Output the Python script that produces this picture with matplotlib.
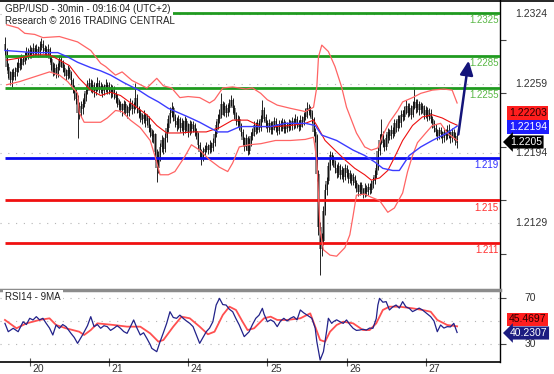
import matplotlib
matplotlib.use("Agg")
import matplotlib.pyplot as plt
from matplotlib.lines import Line2D
from matplotlib.transforms import blended_transform_factory
import numpy as np

plt.rcParams["font.family"] = ["Liberation Sans", "DejaVu Sans"]

title = "GBP/USD - 30min - 09:16:04 (UTC+2)"
subtitle = "Research \u00a9 2016 TRADING CENTRAL"
rsi_title = "RSI14 - 9MA"

# 30 min bars, prices in pips above 1.2000 (open = previous close)
first_open = 296
closes = [290, 275, 268, 262, 270, 265, 270, 274, 278, 276, 282, 280,
          284, 288, 286, 290, 287, 292, 289, 291, 288, 293, 296, 292, 290, 288, 291,
          282, 276, 270, 274, 268, 275, 282, 279, 274, 270, 266, 272, 268, 262, 255, 250, 245,
          232, 238, 235, 240, 246, 252, 257, 260, 255, 258, 252, 256, 260,
          254, 257, 252, 255, 258, 253, 256, 251, 254, 250, 246, 242, 240,
          238, 234, 240, 236, 232, 237, 241, 235, 238, 246, 236, 232, 228, 226, 230, 224, 227,
          218, 214, 210, 212, 195, 180, 192, 200, 206, 198, 208, 218, 226, 232, 236, 228,
          224, 220, 226, 218, 222, 216, 224, 219, 214, 221, 217, 220, 214, 212, 202, 195, 190,
          196, 198, 200, 197, 202, 199, 204, 212, 220, 226, 230, 240, 234, 238, 232, 236, 241, 244, 236,
          230, 224, 226, 220, 214, 206, 200, 208, 196, 204, 210, 214, 220, 216, 222, 218, 226, 234, 228, 222,
          218, 222, 216, 220, 224, 218, 215, 221, 219, 223, 217, 220, 218, 222, 220, 224, 221, 226, 222, 219, 225, 223, 228,
          230, 236, 234, 232, 226, 214, 210, 175, 125, 105, 112, 140, 160, 168, 182, 192, 188,
          185, 180, 176, 182, 174, 178, 172, 180, 176, 170, 174, 168, 172, 166, 162, 158, 164, 160, 156, 162, 158, 163, 160, 165,
          168, 174, 180, 196, 206, 212, 204, 200, 208, 214, 210, 216, 212, 222, 218, 226, 222, 230,
          228, 234, 238, 232, 236, 230, 238, 242, 236, 240, 234, 238, 236, 230, 234, 228, 232, 226, 222,
          218, 214, 210, 216, 212, 208, 214, 210, 216, 212, 208, 214, 210, 206, 205]
highs = [303, 292, 278, 271, 273, 274, 275, 279, 283, 284, 287, 286,
         289, 293, 292, 295, 293, 297, 295, 296, 294, 299, 302, 300, 295, 294, 296,
         293, 285, 279, 278, 277, 278, 286, 285, 281, 277, 273, 276, 275, 271, 264, 258, 254,
         248, 242, 243, 245, 250, 257, 262, 264, 263, 262, 261, 260, 265,
         262, 261, 259, 259, 263, 261, 261, 259, 258, 257, 252, 249, 245,
         243, 241, 244, 243, 239, 241, 246, 244, 242, 260, 249, 238, 235, 232, 234, 232, 231,
         229, 221, 217, 216, 213, 198, 196, 204, 211, 209, 213, 222, 230, 237, 242, 238,
         231, 228, 230, 228, 227, 225, 229, 227, 222, 225, 224, 224, 222, 218, 214, 205, 198,
         200, 202, 205, 203, 206, 205, 208, 216, 224, 231, 235, 250, 243, 242, 240, 240, 245, 248, 246,
         239, 233, 230, 229, 222, 217, 209, 212, 210, 208, 214, 218, 224, 223, 226, 225, 230, 244, 237, 231,
         225, 226, 224, 224, 228, 227, 221, 225, 225, 227, 226, 224, 223, 226, 225, 228, 227, 231, 229, 225, 230, 229, 233,
         236, 242, 240, 238, 234, 228, 218, 212, 178, 130, 120, 145, 165, 172, 186, 196, 195,
         192, 188, 184, 186, 184, 182, 180, 184, 183, 179, 178, 176, 176, 174, 169, 165, 167, 167, 162, 166, 164, 166, 166, 169,
         172, 178, 185, 200, 212, 226, 215, 207, 212, 218, 217, 220, 219, 226, 225, 230, 230, 234,
         234, 238, 244, 241, 241, 239, 243, 256, 245, 245, 243, 242, 241, 239, 238, 237, 236, 235, 229,
         225, 221, 217, 219, 219, 215, 218, 217, 220, 221, 215, 218, 217, 214, 212]
lows = [286, 272, 264, 258, 256, 262, 262, 266, 270, 272, 273, 276,
        277, 281, 282, 283, 283, 284, 285, 286, 284, 285, 290, 288, 286, 284, 285,
        279, 272, 266, 267, 264, 265, 272, 275, 270, 266, 262, 263, 264, 258, 250, 244, 240,
        208, 226, 228, 231, 237, 243, 249, 253, 251, 250, 247, 248, 252,
        250, 250, 247, 248, 251, 249, 249, 246, 247, 245, 241, 237, 234,
        233, 229, 231, 231, 227, 229, 234, 231, 232, 235, 232, 227, 223, 221, 222, 219, 220,
        214, 209, 205, 204, 188, 167, 176, 187, 195, 193, 195, 205, 214, 222, 228, 224,
        219, 215, 217, 214, 215, 211, 213, 215, 209, 211, 213, 214, 210, 207, 198, 190, 183,
        187, 192, 195, 193, 194, 195, 196, 201, 209, 217, 222, 227, 230, 229, 228, 229, 233, 238, 232,
        226, 220, 219, 216, 210, 202, 196, 197, 192, 193, 201, 206, 210, 212, 213, 214, 215, 223, 224, 218,
        214, 214, 212, 212, 216, 214, 211, 212, 215, 215, 213, 213, 214, 215, 216, 216, 217, 218, 218, 215, 216, 219, 220,
        225, 227, 230, 228, 222, 210, 205, 168, 118, 80, 98, 108, 136, 155, 165, 178, 183,
        181, 176, 171, 172, 170, 170, 167, 169, 172, 166, 166, 164, 164, 162, 158, 154, 155, 156, 152, 153, 154, 155, 156, 157,
        162, 165, 171, 178, 192, 203, 200, 196, 197, 204, 206, 207, 208, 210, 214, 215, 218, 219,
        224, 225, 231, 228, 229, 226, 228, 235, 232, 233, 230, 231, 232, 226, 227, 224, 225, 222, 218,
        214, 210, 206, 207, 208, 204, 205, 206, 207, 208, 204, 205, 206, 202, 199]

# indicator lines: bar index / pips
bb_up_x = [1, 8, 12, 18, 23, 33, 44, 52, 58, 61, 67, 71, 77, 86, 92, 96, 101, 106, 111, 118,
           124, 127, 132, 138, 146, 150, 155, 159, 165, 173, 182, 187, 189, 190, 192, 196, 200,
           204, 207, 210, 213, 218, 222, 226, 229, 233, 238, 241, 247, 252, 259, 266, 271, 274]
bb_up = [314, 311, 306, 305, 302, 303, 298, 290, 278, 275, 267, 270, 262, 255, 264, 257, 255, 246, 247, 246,
         241, 244, 255, 256, 254, 255, 250, 244, 239, 236, 233, 237, 256, 284, 295, 289, 275,
         256, 237, 225, 213, 200, 197, 199, 211, 223, 234, 242, 246, 250, 253, 254, 253, 241]
bb_mid_x = [1, 9, 18, 27, 33, 39, 45, 52, 58, 64, 70, 78, 86, 92, 98, 106, 114, 122, 130, 138,
            147, 155, 164, 173, 182, 187, 189, 194, 200, 206, 212, 218, 222, 227, 232, 236, 241,
            247, 253, 259, 265, 270, 274]
bb_mid = [281, 283, 286, 286, 281, 276, 264, 253, 248, 251, 248, 239, 230, 220, 213, 213, 214, 214, 218, 225,
          225, 219, 219, 220, 222, 225, 220, 206, 197, 188, 180, 174, 169, 171, 178, 190, 206,
          220, 228, 230, 227, 223, 220.3]
bb_low_x = [1, 9, 15, 21, 27, 33, 38, 44, 45, 48, 58, 62, 67, 71, 76, 82, 88, 91, 94, 99, 103,
            109, 113, 118, 124, 130, 135, 138, 142, 148, 155, 164, 173, 182, 187, 189, 191, 193,
            197, 201, 206, 209, 211, 213, 218, 222, 227, 232, 236, 241, 244, 247, 250, 255, 259,
            264, 268, 274]
bb_low = [258, 261, 264, 267, 270, 267, 261, 250, 232, 223, 223, 227, 234, 233, 225, 218, 206, 191, 174, 174, 177,
          191, 202, 197, 188, 181, 177, 185, 200, 202, 203, 206, 206, 207, 209, 188, 122, 104,
          99, 98, 106, 118, 136, 155, 156, 153, 150, 139, 143, 157, 177, 192, 204, 213, 220,
          222, 213, 206]
ma_x = [0, 9, 17, 27, 32, 38, 44, 52, 58, 64, 72, 81, 87, 93, 99, 105, 111, 118, 124, 129, 135,
        141, 144, 153, 161, 170, 182, 188, 192, 201, 211, 218, 224, 229, 235, 239, 245, 252, 259,
        268, 274]
ma = [290, 289, 288, 288, 288, 284, 279, 274, 271, 267, 260, 253, 247, 242, 236, 232, 228, 223, 218, 214, 214,
      218, 219, 219, 219, 222, 222, 220, 211, 206, 197, 192, 186, 180, 178, 178, 192, 200, 206,
      213, 219.4]

rsi_x = [0, 2, 5, 8, 11, 13, 15, 17, 19, 21, 23, 25, 27, 29, 31, 33, 35, 37, 40, 42, 44, 47, 50,
         52, 54, 56, 58, 60, 62, 64, 66, 68, 70, 72, 74, 76, 78, 80, 82, 84, 86, 88, 89, 92, 94,
         96, 98, 100, 102, 104, 106, 108, 110, 112, 114, 116, 118, 120, 122, 124, 126, 128, 130,
         132, 134, 136, 138, 140, 142, 145, 148, 150, 152, 154, 156, 157, 159, 161, 163, 165, 167,
         169, 171, 173, 175, 177, 179, 181, 183, 186, 188, 189, 191, 193, 195, 196, 198, 199, 201,
         203, 205, 207, 209, 211, 213, 215, 217, 219, 221, 223, 225, 226, 227, 229, 231, 233, 235,
         237, 239, 241, 243, 245, 247, 249, 251, 253, 256, 258, 260, 262, 264, 266, 268, 270, 272,
         274]
rsi = [48.0, 40.9, 43.8, 40.9, 49.4, 47.0, 52.3, 50.9, 53.7, 51.0, 52.3, 48.0, 44.0, 38.1, 46.6,
       43.8, 47.0, 45.2, 39.5, 36.0, 31.0, 38.1, 46.0, 53.7, 45.2, 47.0, 43.8, 46.0, 45.2, 42.0,
       43.8, 46.0, 43.8, 41.0, 39.5, 45.0, 50.9, 44.0, 38.1, 40.0, 35.2, 30.0, 26.7, 23.9, 32.4,
       40.0, 48.0, 57.9, 53.0, 52.3, 55.0, 52.3, 50.0, 48.0, 45.2, 38.0, 31.0, 36.0, 40.9, 44.0,
       49.4, 63.6, 69.3, 64.0, 63.6, 60.0, 57.9, 52.0, 46.6, 36.7, 40.9, 47.0, 52.3, 55.0, 60.8,
       56.0, 49.4, 51.0, 49.4, 45.2, 50.0, 52.3, 50.0, 52.3, 53.7, 51.0, 59.4, 57.0, 55.1, 52.3,
       44.0, 32.4, 16.8, 23.9, 42.0, 52.3, 48.0, 49.4, 51.0, 49.4, 48.0, 50.9, 47.0, 43.8, 42.0,
       42.3, 43.0, 42.3, 44.0, 43.8, 52.0, 63.6, 69.3, 66.0, 66.5, 59.4, 62.0, 63.6, 61.0, 66.5,
       62.0, 60.8, 58.0, 59.4, 61.0, 59.4, 56.0, 53.7, 50.0, 40.9, 46.6, 44.0, 45.2, 45.0, 48.0,
       40.2307]
rsi_ma_x = [0, 7, 13, 21, 27, 31, 37, 45, 48, 52, 56, 66, 74, 82, 88, 93, 96, 102, 107, 112, 118,
            123, 127, 132, 136, 140, 144, 147, 151, 157, 161, 165, 171, 179, 185, 188, 191, 194,
            197, 201, 205, 211, 217, 221, 225, 229, 233, 239, 247, 253, 258, 262, 268, 274]
rsi_ma = [50.9, 43.8, 48.0, 50.9, 52.3, 46.6, 43.8, 40.9, 38.1, 42.3, 48.0, 46.6, 45.2, 45.2, 39.5,
          32.4, 33.8, 45.2, 53.7, 52.3, 45.2, 38.7, 40.9, 55.1, 62.2, 59.4, 49.4, 42.3, 43.8,
          52.3, 53.7, 50.9, 50.9, 52.3, 56.5, 45.2, 33.8, 32.4, 40.9, 46.6, 49.4, 48.0, 42.3,
          42.3, 48.0, 59.4, 62.2, 62.2, 60.8, 59.4, 57.9, 50.9, 46.6, 45.4697]

levels_green = [1.2325, 1.2285, 1.2255]
levels_blue = [1.219]
levels_red = [1.215, 1.211]
price_ticks = [1.2324, 1.2259, 1.2194, 1.2129]
rsi_ticks = [70, 30]
rsi_grid = [70, 50, 30]

day_labels = ["20", "21", "24", "25", "26", "27"]
day_pos = [15, 63, 111, 159, 207, 255]

last_price = 1.2205
arrow_from = 1.2209
arrow_to = 1.2283


def px(p):
    return 1.2 + np.asarray(p, dtype=float) / 10000


fig = plt.figure(figsize=(5.54, 3.74), dpi=100)
ax = fig.add_axes([0, 85 / 374, 500 / 554, 289 / 374])
ar = fig.add_axes([0, 12 / 374, 500 / 554, 72 / 374])

for a in (ax, ar):
    a.set_xlim(-3, 300)
    for s in ("left", "top", "bottom"):
        a.spines[s].set_visible(False)
    a.spines["right"].set_color("black")
    a.spines["right"].set_linewidth(1)
    a.yaxis.tick_right()
    a.tick_params(axis="y", length=4, width=0.8, color="#444444", labelright=False)

ax.set_ylim(1.20674, 1.23371)
ax.set_xticks([])
ar.set_ylim(15.1, 76.4)
ar.spines["top"].set_visible(True)
ar.spines["top"].set_color("#8c8c8c")
ar.spines["top"].set_linewidth(2.5)
ar.spines["bottom"].set_visible(True)
ar.spines["bottom"].set_linewidth(1.2)

# dotted grid
for t in price_ticks:
    ax.axhline(t, color="#b4b4b4", lw=0.8, ls=(0, (1, 6)), zorder=0)
for t in rsi_grid:
    ar.axhline(t, color="#b4b4b4", lw=0.8, ls=(0, (1, 6)), zorder=0)

# candles: grey bodies, black wicks
x = np.arange(len(closes))
c = px(closes)
o = np.r_[px(first_open), c[:-1]]
h = px(highs)
l = px(lows)
body_lo = np.minimum(o, c)
body_h = np.maximum(np.abs(c - o), 0.0003)
ax.bar(x, body_h, bottom=body_lo - (body_h - np.abs(c - o)) / 2, width=1.7,
       color="#8c8c8c", linewidth=0, zorder=2)
ax.vlines(x, l, h, color="black", lw=0.6, zorder=3)

# support / resistance levels
tr = blended_transform_factory(ax.transAxes, ax.transData)
for levels, col, tcol in ((levels_green, "#1f9a1f", "#5ab846"),
                          (levels_blue, "#0a0af0", "#3030ff"),
                          (levels_red, "#f01010", "#ff3030")):
    ax.hlines(levels, 0, 300, colors=col, lw=2, zorder=4)
    for lv in levels:
        ax.annotate(str(lv), xy=(1, lv), xycoords=tr, xytext=(-1, -1.5),
                    textcoords="offset points", ha="right", va="top",
                    fontsize=7, color=tcol, zorder=6)

# bollinger bands and moving averages
ax.plot(bb_up_x, px(bb_up), color="#ff6464", lw=0.9, zorder=5)
ax.plot(bb_low_x, px(bb_low), color="#ff6464", lw=0.9, zorder=5)
ax.plot(bb_mid_x, px(bb_mid), color="#ee1010", lw=0.8, zorder=5)
ax.plot(ma_x, px(ma), color="#3c3cff", lw=1.0, zorder=5)

# projection arrow
ax.annotate("", xy=(len(closes) + 6.2, arrow_to), xytext=(len(closes) - 0.5, arrow_from),
            arrowprops=dict(arrowstyle="-|>,head_length=0.6,head_width=0.28",
                            color="#14147a", lw=1.8, mutation_scale=14), zorder=7)

# right price labels
for t in price_ticks:
    ax.text(531 / 500, t, f"{t:.4f}", transform=tr, ha="center", va="center",
            fontsize=7.5, color="#333333", clip_on=False)

fig.text(509 / 554, 1 - 113 / 374, f"{bb_mid[-1] / 10000 + 1.2:.5f}", fontsize=7.5, color="#2a0000",
         va="center", ha="left", bbox=dict(boxstyle="square,pad=0.15", fc="#ff1e1e", ec="none"))
fig.text(509 / 554, 1 - 127 / 374, f"{ma[-1] / 10000 + 1.2:.5f}", fontsize=7.5, color="white",
         va="center", ha="left", bbox=dict(boxstyle="square,pad=0.15", fc="#1e1eff", ec="none"))
fig.text(510 / 554, 1 - 142 / 374, f"{last_price:.4f}", fontsize=7.5, color="white",
         va="center", ha="left", bbox=dict(boxstyle="larrow,pad=0.15", fc="black", ec="none"))

# RSI panel
ar.plot(rsi_ma_x, rsi_ma, color="#ff5050", lw=1.3, zorder=3)
ar.plot(rsi_x, rsi, color="#22228a", lw=0.9, zorder=4)
ar.set_yticks(rsi_ticks)
tr2 = blended_transform_factory(ar.transAxes, ar.transData)
for t in rsi_ticks:
    ar.text(530 / 500, t, str(t), transform=tr2, ha="center", va="center",
            fontsize=7.5, color="#333333", clip_on=False)
fig.text(509 / 554, 1 - 319.5 / 374, f"{rsi_ma[-1]:.4f}", fontsize=7.5, color="#2a0000",
         va="center", ha="left", bbox=dict(boxstyle="square,pad=0.15", fc="#ff1e1e", ec="none"))
fig.text(510 / 554, 1 - 333 / 374, f"{rsi[-1]:.4f}", fontsize=7.5, color="white",
         va="center", ha="left", bbox=dict(boxstyle="larrow,pad=0.15", fc="#1c1c80", ec="none"))

ar.set_xticks(day_pos)
ar.tick_params(axis="x", direction="inout", length=6, width=0.8, color="#555555", labelbottom=False)
trx = blended_transform_factory(ar.transData, ar.transAxes)
for p, lbl in zip(day_pos, day_labels):
    ar.text(p + 1.6, -0.03, lbl, transform=trx, ha="left", va="top", fontsize=7.5,
            color="#333333", clip_on=False)

# titles
fig.text(5 / 554, 1 - 9 / 374, title, fontsize=7, color="#222222", va="center",
         bbox=dict(boxstyle="square,pad=0.25", fc="white", ec="none"), zorder=10)
fig.text(5 / 554, 1 - 21 / 374, subtitle, fontsize=7, color="#222222", va="center", zorder=10)
fig.text(5 / 554, 1 - 297 / 374, rsi_title, fontsize=7, color="#222222", va="center",
         bbox=dict(boxstyle="square,pad=0.2", fc="white", ec="none"), zorder=10)

fig.add_artist(Line2D([0, 1], [1 - 0.6 / 374] * 2, color="black", lw=1.2))

fig.savefig("out.png", dpi=100)
